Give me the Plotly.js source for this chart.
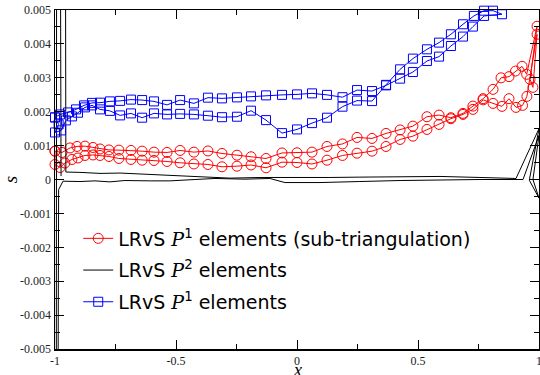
<!DOCTYPE html>
<html>
<head>
<meta charset="utf-8">
<script src="https://cdn.plot.ly/plotly-3.0.1.min.js"></script>
<style>html,body{margin:0;padding:0;background:#fff}#chart{width:540px;height:375px}</style>
</head>
<body>
<div id="chart"></div>
<script>
// ---- Red: LRvS P1 elements (sub-triangulation) ----
const redUpperX = [-1.0,-0.971,-0.938,-0.909,-0.876,-0.843,-0.814,-0.777,-0.736,-0.686,-0.640,-0.591,-0.537,-0.483,-0.426,-0.368,-0.310,-0.248,-0.190,-0.128,-0.062,0.0,0.062,0.124,0.188,0.248,0.310,0.368,0.426,0.479,0.537,0.587,0.636,0.686,0.727,0.769,0.810,0.843,0.876,0.903,0.930];
const redUpperY = [0.000836,0.000798,0.000931,0.000975,0.000984,0.000945,0.000901,0.000872,0.000866,0.000857,0.000836,0.000807,0.000798,0.000857,0.000807,0.000842,0.000768,0.000718,0.000671,0.000620,0.000783,0.000789,0.000807,0.000975,0.001049,0.001241,0.001211,0.001359,0.001462,0.001575,0.001852,0.001900,0.001823,0.001950,0.002165,0.002384,0.002659,0.002999,0.003034,0.003199,0.003338];
const redEndX = [0.949,0.992,0.963,0.975,0.992,0.950];
const redEndY = [0.003102,0.004520,0.002954,0.002718,0.004284,0.002452];
const redLowerX = [-1.0,-0.979,-0.959,-0.930,-0.905,-0.876,-0.843,-0.814,-0.777,-0.736,-0.686,-0.640,-0.591,-0.537,-0.483,-0.426,-0.368,-0.310,-0.248,-0.190,-0.128,-0.062,0.0,0.062,0.124,0.188,0.248,0.310,0.368,0.426,0.479,0.537,0.587,0.636,0.686,0.727,0.769,0.810,0.847,0.876,0.905,0.932];
const redLowerY = [0.000443,0.000355,0.000487,0.000591,0.000635,0.000709,0.000724,0.000709,0.000679,0.000620,0.000591,0.000570,0.000561,0.000532,0.000493,0.000458,0.000443,0.000375,0.000393,0.000428,0.000346,0.000511,0.000502,0.000458,0.000570,0.000709,0.000777,0.000836,0.000975,0.001182,0.001279,0.001477,0.001625,0.001793,0.001920,0.002068,0.002349,0.002245,0.002157,0.002384,0.002127,0.002186];

// ---- Black: LRvS P2 elements ----
const blackStartX = [-0.968];
const blackStartY = [0.05];
const blackUpperX = [-0.955,-0.897,-0.814,-0.731,-0.649,-0.566,-0.483,-0.401,-0.277,-0.153,-0.112,0.012,0.136,0.260,0.426,0.591,0.756,0.905];
const blackUpperY = [0.00022,0.00021,0.00018,0.00019,0.00016,0.00013,0.00012,0.00009,0.00004,0.00006,0.00006,0.00004,0.00006,0.00007,0.00009,0.00009,0.00006,0.00003];
const blackEndX = [1.0,0.96,1.0,0.975,1.0];
const blackEndY = [0.0015,-0.00002,-0.00055,0.0,0.0013];
const blackLowerX = [-0.967,-0.897,-0.835,-0.773,-0.711,-0.607,-0.525,-0.421,-0.339,-0.215,-0.112,-0.050,0.095,0.260,0.426,0.591,0.756,0.934];
const blackLowerY = [-0.00005,-0.00006,-0.00004,-0.00007,-0.00003,-0.00004,-0.00004,0.0,0.00003,0.00001,0.00003,-0.00009,-0.00009,-0.00006,-0.00003,-0.00001,0.0,0.0];
const blackTailX = [-0.985,-0.997,-0.99,-0.975];
const blackTailY = [-0.0003,-0.03,0.04,0.0001];

// ---- Blue: LRvS P1 elements ----
const blueUpperX = [-1.0,-0.979,-0.946,-0.913,-0.880,-0.847,-0.814,-0.773,-0.731,-0.686,-0.640,-0.591,-0.537,-0.483,-0.426,-0.368,-0.310,-0.248,-0.190,-0.128,-0.062,0.0,0.062,0.124,0.188,0.248,0.310,0.368,0.426,0.479,0.537,0.587,0.636,0.686,0.727,0.773];
const blueUpperY = [0.001832,0.001920,0.001979,0.002068,0.002186,0.002260,0.002266,0.002304,0.002319,0.002357,0.002343,0.002304,0.002201,0.002343,0.002245,0.002414,0.002393,0.002422,0.002452,0.002482,0.002496,0.002511,0.002541,0.002496,0.002428,0.002638,0.002609,0.002777,0.002975,0.003170,0.003495,0.003625,0.003938,0.004216,0.004511,0.004825];
const blueLowerX = [-1.0,-0.975,-0.955,-0.930,-0.905,-0.876,-0.847,-0.814,-0.773,-0.731,-0.686,-0.640,-0.591,-0.537,-0.483,-0.426,-0.368,-0.310,-0.248,-0.190,-0.128,-0.062,0.0,0.062,0.124,0.188,0.248,0.310,0.368,0.426,0.479,0.537,0.587,0.636,0.686,0.731,0.773,0.810,0.847];
const blueLowerY = [0.001388,0.001448,0.001743,0.001861,0.001970,0.002127,0.002186,0.002068,0.002024,0.001891,0.001950,0.001823,0.001950,0.001920,0.001935,0.001920,0.001882,0.001838,0.001852,0.002030,0.001752,0.001368,0.001477,0.001663,0.001823,0.002148,0.002328,0.002313,0.002792,0.003250,0.003566,0.003840,0.004038,0.004284,0.004579,0.004825,0.004980,0.004980,0.004875];
const blueCloseX = [-0.985,-1.0];
const blueCloseY = [0.001625,0.001832];

// ---- Axis ticks ----
const xTickVals = [-1,-0.5,0,0.5,1];
const xTickText = ['-1','-0.5','0','0.5','1'];
const yTickVals = [0.005,0.004,0.003,0.002,0.001,0,-0.001,-0.002,-0.003,-0.004,-0.005];
const yTickText = ['0.005','0.004','0.003','0.002','0.001','0','-0.001','-0.002','-0.003','-0.004','-0.005'];

const rev = a => a.slice().reverse();
const P = '<span style="font-family:\'DejaVu Serif\',serif;font-style:italic">P</span>';

const traces = [
  {
    x: redUpperX.concat(redEndX, rev(redLowerX), [redUpperX[0]]),
    y: redUpperY.concat(redEndY, rev(redLowerY), [redUpperY[0]]),
    mode: 'lines+markers', type: 'scatter', cliponaxis: false,
    name: 'LRvS ' + P + '<sup>1</sup> elements (sub-triangulation)',
    legendgroup: 'a',
    line: {color: '#ff0000', width: 1},
    marker: {symbol: 'circle-open', size: 10, color: '#ff0000', line: {width: 1, color: '#ff0000'}}
  },
  {
    x: blackStartX.concat(blackUpperX, blackEndX, rev(blackLowerX), blackTailX),
    y: blackStartY.concat(blackUpperY, blackEndY, rev(blackLowerY), blackTailY),
    mode: 'lines', type: 'scatter',
    name: 'LRvS ' + P + '<sup>2</sup> elements',
    legendgroup: 'b',
    line: {color: '#000000', width: 1}
  },
  {
    x: blueUpperX.concat(rev(blueLowerX), blueCloseX),
    y: blueUpperY.concat(rev(blueLowerY), blueCloseY),
    mode: 'lines+markers', type: 'scatter', cliponaxis: false,
    name: 'LRvS ' + P + '<sup>1</sup> elements',
    legendgroup: 'c',
    line: {color: '#0000ff', width: 1},
    marker: {symbol: 'square-open', size: 9, color: '#0000ff', line: {width: 1, color: '#0000ff'}}
  }
];

const axisCommon = {
  showline: true, linecolor: '#000', linewidth: 1.5, mirror: 'ticks',
  ticks: 'inside', ticklen: 9, tickwidth: 1, tickcolor: '#000',
  showgrid: false, zeroline: false, ticklabeloverflow: 'allow',
  tickfont: {family: 'Liberation Serif, serif', size: 12, color: '#222'},
  minor: {ticks: 'inside', ticklen: 5, tickwidth: 1, tickcolor: '#000', showgrid: false}
};

const layout = {
  width: 540, height: 375,
  margin: {l: 55, r: 1, t: 10, b: 26},
  paper_bgcolor: '#fff', plot_bgcolor: '#fff',
  showlegend: true,
  legend: {
    x: 0.048, y: 0.382, xanchor: 'left', yanchor: 'top',
    bgcolor: 'rgba(0,0,0,0)', borderwidth: 0,
    font: {family: 'DejaVu Sans, sans-serif', size: 19, color: '#000'},
    tracegroupgap: 4, traceorder: 'grouped'
  },
  xaxis: Object.assign({}, axisCommon, {
    range: [-1, 1], tickmode: 'array', tickvals: xTickVals, ticktext: xTickText,
    minor: Object.assign({}, axisCommon.minor, {dtick: 0.25, tick0: 0})
  }),
  yaxis: Object.assign({}, axisCommon, {
    range: [-0.005, 0.005], tickmode: 'array', tickvals: yTickVals, ticktext: yTickText,
    minor: Object.assign({}, axisCommon.minor, {dtick: 0.0005, tick0: 0}),
    title: {text: '<i>s</i>', font: {family: 'Liberation Serif, serif', size: 19, color: '#000'}, standoff: 4}
  }),
  annotations: [{
    text: '<i>x</i>', xref: 'paper', yref: 'paper', x: 0.5, y: -0.062,
    xanchor: 'center', yanchor: 'middle', showarrow: false,
    font: {family: 'Liberation Serif, serif', size: 18, color: '#000'}
  }]
};

Plotly.newPlot('chart', traces, layout, {displayModeBar: false, staticPlot: true});
</script>
</body>
</html>
